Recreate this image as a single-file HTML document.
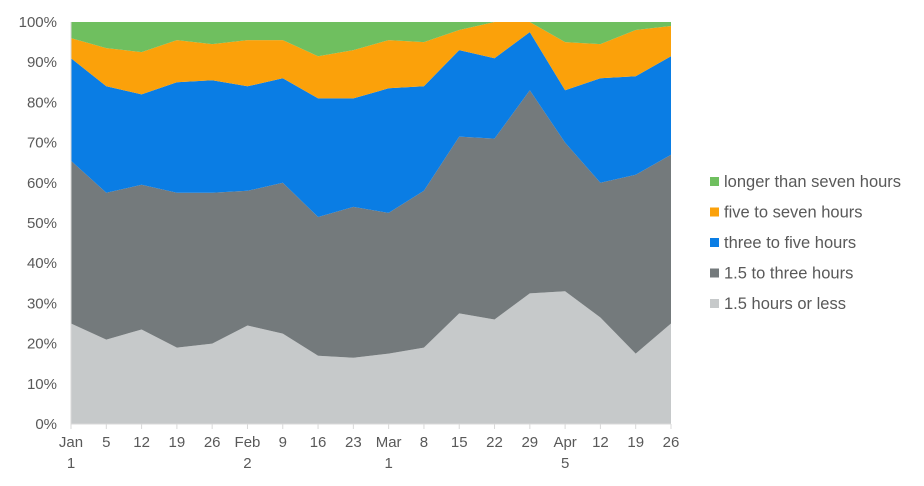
<!DOCTYPE html>
<html><head><meta charset="utf-8"><style>
html,body{margin:0;padding:0;background:#fff;width:924px;height:486px;overflow:hidden}
svg text{font-family:"Liberation Sans",Arial,sans-serif;font-size:15px;fill:#595959}
svg text.lg{font-size:16.5px}
</style></head><body>
<svg id="c" width="924" height="486" xmlns="http://www.w3.org/2000/svg"></svg>
<script>
const s=document.getElementById('c');
const X0=71,X1=671,Y0=424,Y1=22;
const n=18,dx=(X1-X0)/(n-1);
const x=i=>X0+i*dx, y=v=>Y0-(Y0-Y1)*v/100;
const b=[
 Array(n).fill(0),
 [25,21,23.5,19,20,24.5,22.5,17,16.5,17.5,19,27.5,26,32.5,33,26.5,17.5,25],
 [65.5,57.5,59.5,57.5,57.5,58,60,51.5,54,52.5,58,71.5,71,83,70,60,62,67],
 [91,84,82,85,85.5,84,86,81,81,83.5,84,93,91,97.5,83,86,86.5,91.5],
 [96,93.5,92.5,95.5,94.5,95.5,95.5,91.5,93,95.5,95,98,100,100,95,94.5,98,99],
 Array(n).fill(100)];
const cols=['#c6c9ca','#747a7c','#0a7de4','#fba10a','#6fbf5f'];
let h='';
for(let k=0;k<5;k++){
 let p=[];
 for(let i=0;i<n;i++)p.push(x(i).toFixed(1)+','+y(b[k+1][i]).toFixed(1));
 for(let i=n-1;i>=0;i--)p.push(x(i).toFixed(1)+','+y(b[k][i]).toFixed(1));
 h+=`<polygon points="${p.join(' ')}" fill="${cols[k]}"/>`;
}
h+=`<line x1="${X0}" y1="${Y0}" x2="${X1}" y2="${Y0}" stroke="#d9d9d9" stroke-width="1"/>`;
h+=`<line x1="${X0}" y1="${Y1}" x2="${X0}" y2="${Y0}" stroke="#d9d9d9" stroke-width="1"/>`;
for(let i=0;i<n;i++)h+=`<line x1="${x(i)}" y1="${Y0}" x2="${x(i)}" y2="${Y0+5}" stroke="#d9d9d9"/>`;
for(let v=0;v<=100;v+=10)h+=`<text x="57" y="${y(v)+5}" text-anchor="end">${v}%</text>`;
const L=['Jan','5','12','19','26','Feb','9','16','23','Mar','8','15','22','29','Apr','12','19','26'];
const L2={0:'1',5:'2',9:'1',14:'5'};
for(let i=0;i<n;i++){h+=`<text x="${x(i)}" y="447" text-anchor="middle">${L[i]}</text>`;
 if(L2[i])h+=`<text x="${x(i)}" y="468" text-anchor="middle">${L2[i]}</text>`;}
const leg=['longer than seven hours','five to seven hours','three to five hours','1.5 to three hours','1.5 hours or less'];
const lc=['#6fbf5f','#fba10a','#0a7de4','#747a7c','#c6c9ca'];
for(let i=0;i<5;i++){const yy=182+i*30.5;
 h+=`<rect x="710" y="${yy-5}" width="9" height="9" fill="${lc[i]}"/><text class="lg" x="724" y="${yy+5}">${leg[i]}</text>`;}
s.innerHTML=h;
</script>
</body></html>
